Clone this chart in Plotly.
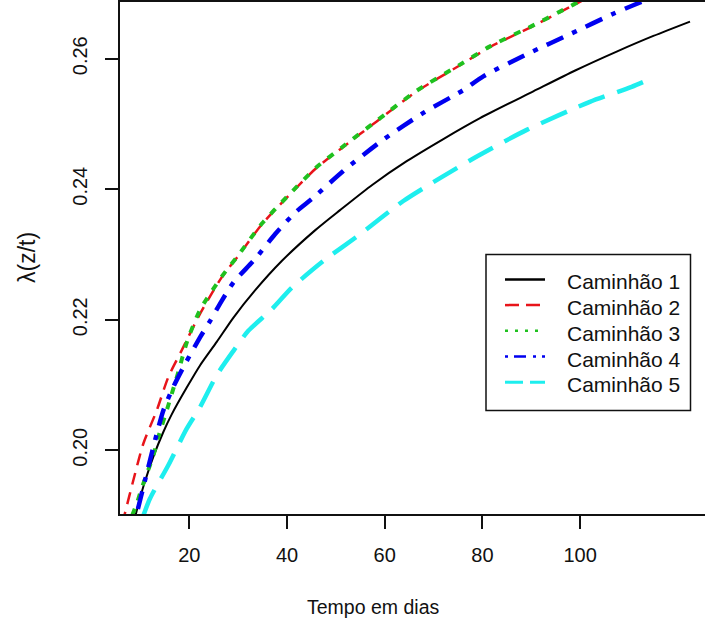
import plotly.graph_objects as go

# ---- data ----
series_names = ["Caminhão 1", "Caminhão 2", "Caminhão 3", "Caminhão 4", "Caminhão 5"]

days_1 = [8.8, 9.57, 10.58, 12.63, 14.68, 16.40, 19.47, 22.19, 25.61, 29.0, 33.45, 38.92,
          45.73, 50.85, 57.5, 64.5, 72.0, 79.51, 90.42, 99.0, 107.49, 115.0, 122.5]
lam_1 = [0.1895, 0.1917, 0.1944, 0.1990, 0.2028, 0.2055, 0.2096, 0.2130, 0.2166, 0.2203, 0.2245, 0.2290,
         0.2337, 0.2368, 0.2407, 0.2443, 0.2477, 0.2509, 0.2550, 0.2582, 0.2611, 0.2635, 0.2657]

days_2 = [6.3, 6.84, 8.54, 10.58, 13.33, 15.70, 18.44, 22.19, 26.63, 30.03, 34.82, 39.94,
          46.08, 51.20, 58.36, 66.55, 75.41, 81.56, 90.09, 98.61, 104.0]
lam_2 = [0.1888, 0.1904, 0.1954, 0.2010, 0.2061, 0.2112, 0.2153, 0.2209, 0.2265, 0.2298, 0.2346, 0.2387,
         0.2433, 0.2463, 0.2504, 0.2550, 0.2590, 0.2618, 0.2649, 0.2682, 0.2703]

days_3 = [8.3, 9.23, 10.26, 12.63, 13.65, 15.70, 17.75, 19.47, 22.19, 26.63, 30.03, 34.82, 39.94,
          46.08, 51.20, 58.36, 66.55, 75.41, 81.56, 90.09, 98.61, 103.5]
lam_3 = [0.1900, 0.1918, 0.1942, 0.1992, 0.2020, 0.2069, 0.2120, 0.2165, 0.2215, 0.2266, 0.2299, 0.2347, 0.2388,
         0.2434, 0.2464, 0.2505, 0.2551, 0.2591, 0.2619, 0.2650, 0.2683, 0.2703]

days_4 = [8.6, 9.23, 10.93, 12.30, 13.33, 14.68, 16.72, 19.12, 22.19, 24.24, 26.63, 29.01, 33.45,
          37.54, 41.64, 45.38, 51.52, 59.71, 67.90, 76.09, 80.18, 89.40, 98.28, 106.80, 110.89, 115.0]
lam_4 = [0.1888, 0.1903, 0.1954, 0.1995, 0.2025, 0.2061, 0.2097, 0.2132, 0.2173, 0.2198, 0.2229, 0.2257, 0.2293,
         0.2331, 0.2364, 0.2387, 0.2428, 0.2476, 0.2517, 0.2552, 0.2573, 0.2608, 0.2639, 0.2669, 0.2682, 0.2695]

days_5 = [10.6, 11.95, 15.70, 19.47, 22.19, 25.61, 29.0, 32.08, 36.87, 40.96, 47.43, 54.94,
          63.81, 71.32, 79.51, 89.07, 102.0, 110.56, 114.66]
lam_5 = [0.1900, 0.1926, 0.1977, 0.2033, 0.2066, 0.2115, 0.2152, 0.2183, 0.2216, 0.2249, 0.2290, 0.2331,
         0.2382, 0.2417, 0.2453, 0.2491, 0.2534, 0.2557, 0.2570]

x_ticks = [20, 40, 60, 80, 100]
y_ticks = [0.20, 0.22, 0.24, 0.26]
y_tick_text = ["0.20", "0.22", "0.24", "0.26"]

x_title = "Tempo em dias"
y_title = "λ(z/t)"

# ---- styles ----
colors = ["#000000", "#E8141A", "#1FC11F", "#0000F0", "#1EEEEE"]
widths = [2, 2.5, 4, 4.5, 4.5]
dashes = ["solid", "12px,8px", "7px,9px", "5px,10px,18px,10px", "28px,13px"]
leg_widths = [2.5, 2.5, 2.5, 2.5, 3]
leg_dashes = ["solid", "14px,7px", "3px,7px", "3px,6px,12px,7px", "18px,7px"]

all_x = [days_1, days_2, days_3, days_4, days_5]
all_y = [lam_1, lam_2, lam_3, lam_4, lam_5]

fig = go.Figure()
for i in range(5):
    fig.add_trace(go.Scatter(
        x=all_x[i], y=all_y[i], mode="lines", name=series_names[i],
        line=dict(color=colors[i], width=widths[i], dash=dashes[i],
                  shape="spline", smoothing=0.7),
        showlegend=False, hoverinfo="skip"))

# plot area in pixels
L, R, T, B = 120, 0, 0, 111
W, H = 705, 625
pw, ph = W - L - R, H - T - B

def px_x(px):
    return (px - L) / pw

def px_y(py):
    return 1 - (py - T) / ph

shapes = []
annotations = []
# legend box
shapes.append(dict(type="rect", xref="paper", yref="paper",
                   x0=px_x(486), x1=px_x(690.5), y0=px_y(410), y1=px_y(253.5),
                   line=dict(color="#111111", width=1.5), fillcolor="white", layer="above"))
for i, name in enumerate(series_names):
    cy = 281.0 + i * 25.8
    shapes.append(dict(type="line", xref="paper", yref="paper",
                       x0=px_x(505), x1=px_x(545), y0=px_y(cy - 2.5), y1=px_y(cy - 2.5),
                       line=dict(color=colors[i], width=leg_widths[i], dash=leg_dashes[i]),
                       layer="above"))
    annotations.append(dict(text=name, xref="paper", yref="paper", x=px_x(565), y=px_y(cy),
                            xanchor="left", yanchor="middle", showarrow=False,
                            font=dict(size=21, color="#111111", family="Liberation Sans, Arial")))

annotations.append(dict(text=x_title, xref="paper", yref="paper", x=px_x(372.5), y=px_y(607),
                        xanchor="center", yanchor="middle", showarrow=False,
                        font=dict(size=19.5, color="#111111", family="Liberation Sans, Arial")))
annotations.append(dict(text=y_title, xref="paper", yref="paper", x=px_x(27), y=0.5,
                        xanchor="center", yanchor="middle", showarrow=False, textangle=-90,
                        font=dict(size=23, color="#111111", family="Liberation Sans, Arial")))

fig.update_layout(
    width=W, height=H,
    margin=dict(l=L, r=R, t=T, b=B, pad=0),
    paper_bgcolor="white", plot_bgcolor="white",
    font=dict(family="Liberation Sans, Arial", color="#111111", size=20),
    shapes=shapes, annotations=annotations, showlegend=False,
)
fig.update_xaxes(range=[5.81, 125.57], tickvals=x_ticks, ticks="outside", ticklen=13,
                 tickwidth=1.5, tickcolor="#111111", showline=True, linecolor="#111111",
                 linewidth=1.5, mirror=True, showgrid=False, zeroline=False,
                 tickfont=dict(size=20), ticklabelstandoff=9)
fig.update_yaxes(range=[0.19023, 0.26870], tickvals=y_ticks, ticktext=y_tick_text,
                 tickangle=-90, ticks="outside", ticklen=13, tickwidth=1.5, tickcolor="#111111",
                 showline=True, linecolor="#111111", linewidth=1.5, mirror=False,
                 showgrid=False, zeroline=False, tickfont=dict(size=20), ticklabelstandoff=10)

fig.write_html("out.html")
